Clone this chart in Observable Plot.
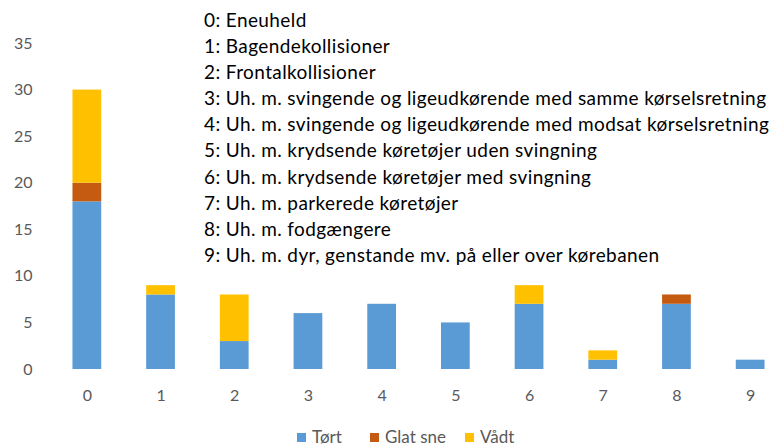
<!DOCTYPE html>
<html>
<head>
<meta charset="utf-8">
<script src="https://cdn.jsdelivr.net/npm/d3@7"></script>
<script src="https://cdn.jsdelivr.net/npm/@observablehq/plot@0.6"></script>
<style>
  html, body { margin: 0; padding: 0; background: #fff; overflow: hidden; }
  #wrap { position: relative; width: 775px; height: 446px; font-family: Lato, "Open Sans", sans-serif; }
  #notes { position: absolute; left: 204px; top: 7px; font-size: 19px; letter-spacing: 0.4px; line-height: 26.1px; color: #000; white-space: nowrap; }
  #legend { position: absolute; left: 0; top: 426px; width: 775px; height: 20px; font-size: 17px; color: #595959; }
  #legend .item { position: absolute; top: 0; display: flex; align-items: center; height: 20px; }
  #legend span.sw { display: inline-block; width: 9px; height: 9px; margin-right: 6px; margin-top: 3px; }
</style>
</head>
<body>
<div id="wrap">
  <div id="chart"></div>
  <div id="notes"></div>
  <div id="legend"></div>
</div>
<script>
const categories = ["0", "1", "2", "3", "4", "5", "6", "7", "8", "9"];
const series = ["Tørt", "Glat sne", "Vådt"];
const tort = [18, 8, 3, 6, 7, 5, 7, 1, 7, 1];
const glatSne = [2, 0, 0, 0, 0, 0, 0, 0, 1, 0];
const vadt = [10, 1, 5, 0, 0, 0, 2, 1, 0, 0];
const colors = ["#5B9BD5", "#C55A11", "#FFC000"];
const yTicks = [0, 5, 10, 15, 20, 25, 30, 35];
const categoryLabels = [
  "0: Eneuheld",
  "1: Bagendekollisioner",
  "2: Frontalkollisioner",
  "3: Uh. m. svingende og ligeudkørende med samme kørselsretning",
  "4: Uh. m. svingende og ligeudkørende med modsat kørselsretning",
  "5: Uh. m. krydsende køretøjer uden svingning",
  "6: Uh. m. krydsende køretøjer med svingning",
  "7: Uh. m. parkerede køretøjer",
  "8: Uh. m. fodgængere",
  "9: Uh. m. dyr, genstande mv. på eller over kørebanen"
];

const valuesBySeries = [tort, glatSne, vadt];
const table = [];
series.forEach((s, si) => {
  categories.forEach((c, ci) => {
    table.push({category: c, series: s, value: valuesBySeries[si][ci]});
  });
});

const chart = Plot.plot({
  width: 775,
  height: 420,
  marginTop: 43,
  marginBottom: 51,
  marginLeft: 50,
  marginRight: 0,
  style: {fontFamily: "Lato, 'Open Sans', sans-serif", fontSize: "16px", color: "#595959", background: "transparent"},
  x: {domain: categories, range: [50, 787], paddingInner: 0.61, paddingOuter: 0.305, align: 0.5, round: false, label: null},
  y: {domain: [0, 35], ticks: yTicks, label: null},
  color: {domain: series, range: colors},
  marks: [
    Plot.ruleY(yTicks, {stroke: "#d9d9d9", strokeWidth: 1.3, x1: 50, x2: 787}),
    Plot.barY(table, {x: "category", y: "value", fill: "series", order: series, inset: 0}),
    Plot.axisX({tickSize: 0, tickPadding: 20, fontSize: 16, fill: "#595959"}),
    Plot.axisY({ticks: yTicks, tickSize: 0, tickPadding: 18, fontSize: 16, fill: "#595959"})
  ]
});
document.getElementById("chart").appendChild(chart);

const notes = document.getElementById("notes");
categoryLabels.forEach(t => {
  const d = document.createElement("div");
  d.textContent = t;
  notes.appendChild(d);
});

const legend = document.getElementById("legend");
const legendLeft = [297, 370, 465];
series.forEach((s, i) => {
  const item = document.createElement("div");
  item.className = "item";
  item.style.left = legendLeft[i] + "px";
  const sw = document.createElement("span");
  sw.className = "sw";
  sw.style.background = colors[i];
  item.appendChild(sw);
  item.appendChild(document.createTextNode(s));
  legend.appendChild(item);
});
</script>
</body>
</html>
